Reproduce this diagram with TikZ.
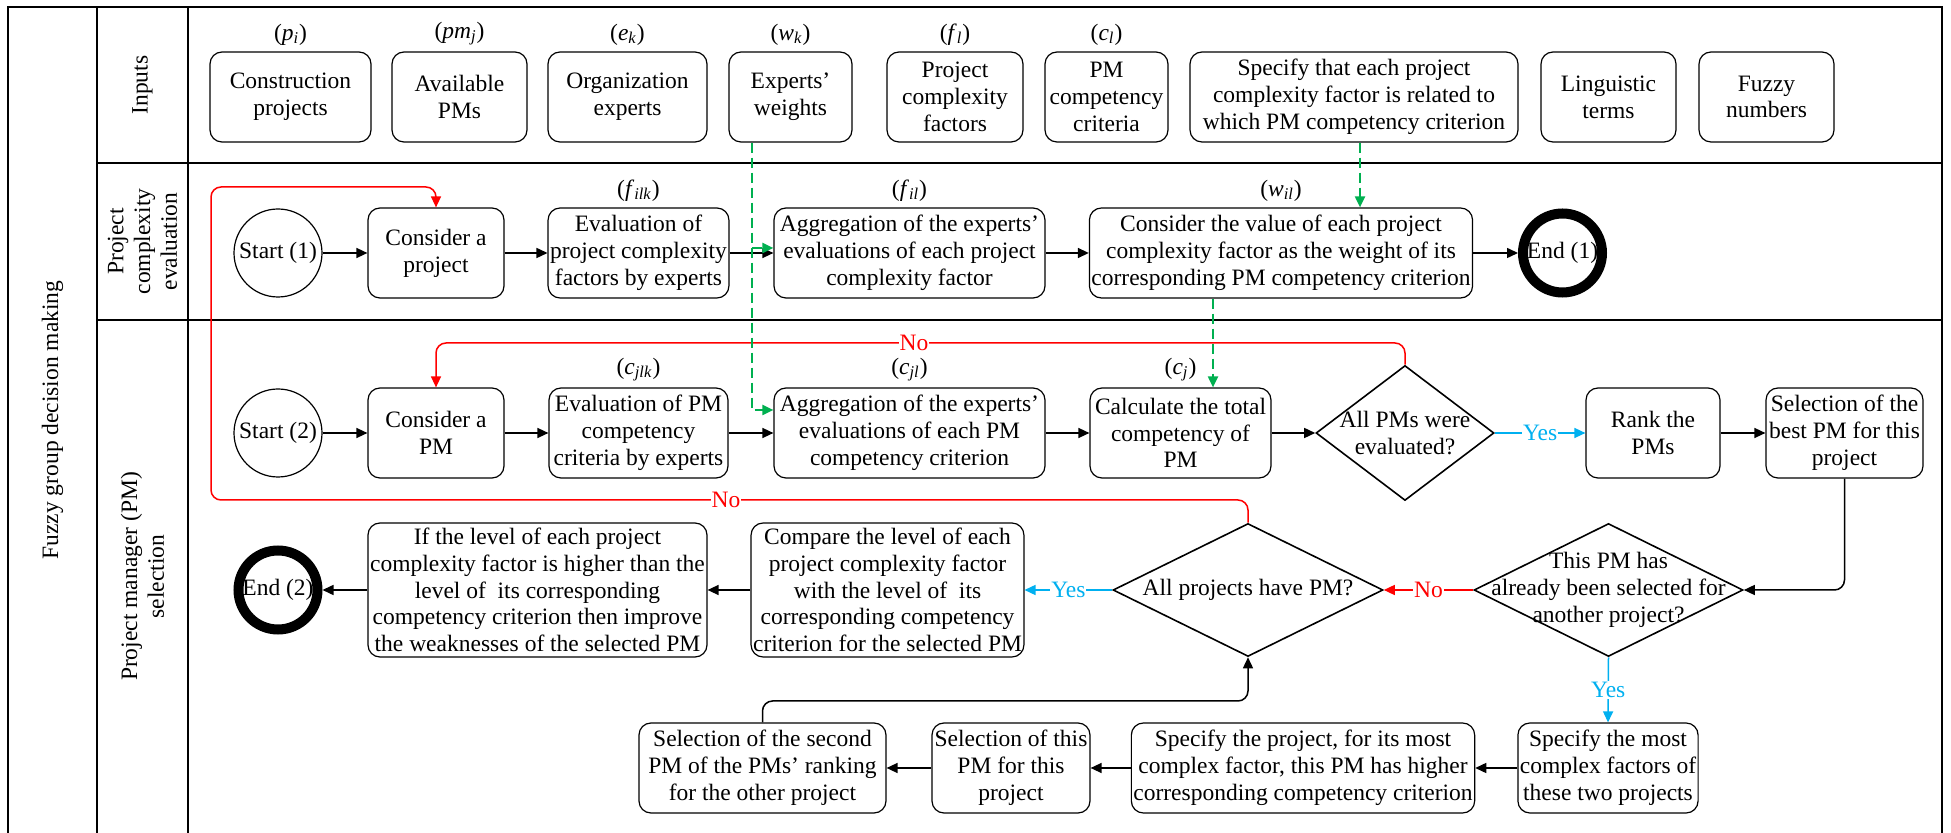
\documentclass[tikz,border=0pt]{standalone}
\usepackage{fontspec}
\setmainfont{Liberation Serif}
\usetikzlibrary{arrows.meta,shapes.geometric}
\definecolor{noRed}{RGB}{255,0,0}
\definecolor{yesBlue}{RGB}{0,176,240}
\definecolor{cueGreen}{RGB}{0,176,80}
\newcommand{\subsym}[2]{(\textit{#1}\textsubscript{\textit{#2}})}
\begin{document}
\begin{tikzpicture}[x=5pt,y=5pt,
  every node/.style={font=\rmfamily\fontsize{11.75}{13.4}\selectfont},
  lane/.style={line width=1.2pt},
  proc/.style 2 args={draw, rounded corners=6pt, align=center, inner sep=1pt, line width=0.6pt, minimum width=#1, minimum height=#2},
  startnode/.style={draw, circle, inner sep=0pt, minimum size=44pt, line width=0.6pt},
  endnode/.style={draw, circle, inner sep=0pt, minimum size=39.5pt, line width=5pt},
  decide/.style 2 args={draw, diamond, inner sep=0pt, minimum width=#1, minimum height=#2, line width=0.8pt},
  flow/.style={-{Triangle[length=5.5pt,width=5pt]}, line width=0.75pt},
  noline/.style={flow, noRed},
  yesline/.style={flow, yesBlue},
  cue/.style={-{Triangle[length=5.5pt,width=5pt]}, cueGreen, line width=1pt, dash pattern=on 5pt off 2.5pt},
  answer/.style={fill=white, inner sep=0.5pt},
  sym/.style={label={[yshift=-0.5pt]above:#1}}]
\useasboundingbox (0,0) rectangle (195.1,-83.3);
\draw[lane] (0.8,-83.3) -- (0.8,-0.7) -- (194.2,-0.7) -- (194.2,-83.3);
\draw[lane] (9.7,-0.7) -- (9.7,-83.3);
\draw[lane] (18.8,-0.7) -- (18.8,-83.3);
\draw[lane] (9.7,-16.3) -- (194.2,-16.3);
\draw[lane] (9.7,-32.0) -- (194.2,-32.0);
\node[rotate=90] (lfg) at (5.25,-42.0) {Fuzzy group decision making};
\node[rotate=90] (lin) at (14.25,-8.5) {Inputs};
\node[rotate=90, align=center] (lpc) at (14.25,-24.15) {Project\\complexity\\evaluation};
\node[rotate=90, align=center] (lpm) at (14.25,-57.65) {Project manager (PM)\\selection};
\node[proc={80.5pt}{45pt}, sym={\subsym{p}{i}}] (in1) at (29.05,-9.7) {Construction\\projects};
\node[proc={67.5pt}{45pt}, sym={\subsym{pm}{j}}] (in2) at (45.95,-9.7) {Available\\PMs};
\node[proc={79.5pt}{45pt}, sym={\subsym{e}{k}}] (in3) at (62.75,-9.7) {Organization\\experts};
\node[proc={61.5pt}{45pt}, sym={\subsym{w}{k}}] (in4) at (79.05,-9.7) {Experts’\\weights};
\node[proc={68pt}{45pt}, sym={\subsym{f}{l}}] (in5) at (95.5,-9.7) {Project\\complexity\\factors};
\node[proc={61.5pt}{45pt}, sym={\subsym{c}{l}}] (in6) at (110.65,-9.7) {PM\\competency\\criteria};
\node[proc={164pt}{45pt}] (in7) at (135.4,-9.7) {Specify that each project\\complexity factor is related to\\which PM competency criterion};
\node[proc={67.5pt}{45pt}] (in8) at (160.85,-9.7) {Linguistic\\terms};
\node[proc={67.5pt}{45pt}] (in9) at (176.65,-9.7) {Fuzzy\\numbers};
\node[startnode] (s1) at (27.8,-25.3) {Start (1)};
\node[proc={68pt}{45pt}] (p1) at (43.6,-25.3) {Consider a\\project};
\node[proc={89.5pt}{45pt}, sym={\subsym{f}{ilk}}] (p2) at (63.85,-25.3) {Evaluation of\\project complexity\\factors by experts};
\node[proc={135.5pt}{45pt}, sym={\subsym{f}{il}}] (p3) at (90.95,-25.3) {Aggregation of the experts’\\evaluations of each project\\complexity factor};
\node[proc={191pt}{45pt}, sym={\subsym{w}{il}}] (p4) at (128.1,-25.3) {Consider the value of each project\\complexity factor as the weight of its\\corresponding PM competency criterion};
\node[endnode] (e1) at (156.25,-25.3) {End (1)};
\node[startnode] (s2) at (27.8,-43.3) {Start (2)};
\node[proc={68pt}{45pt}] (q1) at (43.6,-43.3) {Consider a\\PM};
\node[proc={89.5pt}{45pt}, sym={\subsym{c}{jlk}}] (q2) at (63.85,-43.3) {Evaluation of PM\\competency\\criteria by experts};
\node[proc={135.5pt}{45pt}, sym={\subsym{c}{jl}}] (q3) at (90.95,-43.3) {Aggregation of the experts’\\evaluations of each PM\\competency criterion};
\node[proc={90.5pt}{45pt}, sym={\subsym{c}{j}}] (q4) at (118.05,-43.3) {Calculate the total\\competency of\\PM};
\node[decide={89pt}{67.5pt}, label={[align=center]center:All PMs were\\evaluated?}] (d1) at (140.5,-43.3) {};
\node[proc={67pt}{45pt}] (q5) at (165.3,-43.3) {Rank the\\PMs};
\node[proc={78.5pt}{45pt}] (q6) at (184.45,-43.3) {Selection of the\\best PM for this\\project};
\node[endnode] (e2) at (27.8,-59.0) {End (2)};
\node[proc={169.5pt}{67pt}] (r1) at (53.75,-59.0) {If the level of each project\\complexity factor is higher than the\\level of~ its corresponding\\competency criterion then improve\\the weaknesses of the selected PM};
\node[proc={135.5pt}{67pt}] (r2) at (88.75,-59.0) {Compare the level of each\\project complexity factor\\with the level of~ its\\corresponding competency\\criterion for the selected PM};
\node[decide={135pt}{66.5pt}, label={[align=center]center:All projects have PM?}] (d2) at (124.8,-59.0) {};
\node[decide={134.5pt}{66.5pt}, label={[align=center]center:This PM has\\already been selected for\\another project?}] (d3) at (160.85,-59.0) {};
\node[proc={90pt}{45pt}] (t1) at (160.8,-76.8) {Specify the most\\complex factors of\\these two projects};
\node[proc={169pt}{45pt}] (t2) at (130.3,-76.8) {Specify the project, for its most\\complex factor, this PM has higher\\corresponding competency criterion};
\node[proc={79pt}{45pt}] (t3) at (101.1,-76.8) {Selection of this\\PM for this\\project};
\node[proc={123.5pt}{45pt}] (t4) at (76.25,-76.8) {Selection of the second\\PM of the PMs’ ranking\\for the other project};
\draw[flow] (s1) -- (p1);
\draw[flow] (p1) -- (p2);
\draw[flow] (p2) -- (p3);
\draw[flow] (p3) -- (p4);
\draw[flow] (p4) -- (e1);
\draw[flow] (s2) -- (q1);
\draw[flow] (q1) -- (q2);
\draw[flow] (q2) -- (q3);
\draw[flow] (q3) -- (q4);
\draw[flow] (q4) -- (d1);
\draw[yesline] (d1) -- node[answer, text=yesBlue] {Yes} (q5);
\draw[flow] (q5) -- (q6);
\coordinate (redC) at (43.6,-34.3);
\draw[noline, rounded corners=5pt] (d1.north) |- (redC) -- (q1.north);
\node[answer, text=noRed] (no1) at (91.4,-34.3) {No};
\coordinate (redA) at (21.1,-50.0);
\coordinate (redB) at (21.1,-18.7);
\draw[noline, rounded corners=5pt] (d2.north) |- (redA) -- (redB) -| (p1.north);
\node[answer, text=noRed] (no2) at (72.6,-50.0) {No};
\draw[flow, rounded corners=5pt] (q6.south) |- (d3.east);
\draw[noline] (d3.west) -- node[answer, text=noRed] {No} (d2.east);
\draw[yesline] (d3.south) -- node[answer, text=yesBlue] {Yes} (t1.north);
\draw[flow] (t1) -- (t2);
\draw[flow] (t2) -- (t3);
\draw[flow] (t3) -- (t4);
\coordinate (upB) at (76.25,-70.1);
\draw[flow, rounded corners=5pt] (t4.north) -- (upB) -| (d2.south);
\draw[yesline] (d2.west) -- node[answer, text=yesBlue] {Yes} (r2.east);
\draw[flow] (r2) -- (r1);
\draw[flow] (r1) -- (e2);
\coordinate (wdrop) at (75.2,-41.0);
\coordinate (wmid) at (75.2,-24.8);
\draw[cue] (in4.south -| wdrop) -- (wdrop) -- (wdrop -| q3.west);
\draw[cue] (wmid) -- (wmid -| p3.west);
\coordinate (cdrop) at (136.0,0);
\draw[cue] (in7.south -| cdrop) -- (p4.north -| cdrop);
\coordinate (vdrop) at (121.3,0);
\draw[cue] (p4.south -| vdrop) -- (q4.north -| vdrop);
\end{tikzpicture}
\end{document}
